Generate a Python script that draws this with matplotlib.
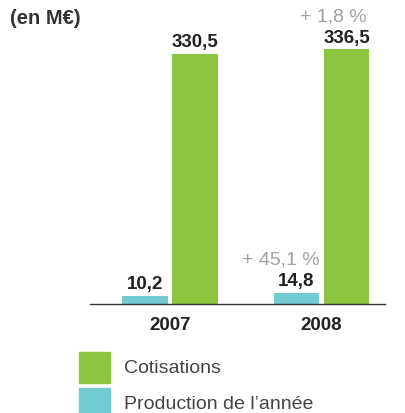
import matplotlib.pyplot as plt
from matplotlib.patches import Rectangle
import numpy as np

# --- Data ---
years = ["2007", "2008"]
cotisations = [330.5, 336.5]
production = [10.2, 14.8]
cotis_labels = ["330,5", "336,5"]
prod_labels = ["10,2", "14,8"]
cotis_change = [None, "+ 1,8 %"]
prod_change = [None, "+ 45,1 %"]
series_names = ["Cotisations", "Production de l\u2019ann\u00e9e"]

green = "#8cc63f"
cyan = "#72cbd2"
grey = "#a0a0a0"
dark = "#222222"

plt.rcParams["font.family"] = ["Liberation Sans", "DejaVu Sans"]

W, H = 406, 414
fig = plt.figure(figsize=(W / 100, H / 100), dpi=100)
ax = fig.add_axes([90 / W, 109 / H, 295 / W, 305 / H])

x = np.arange(len(years))
w = 0.30
off = 0.165
ax.bar(x - off, production, w, color=cyan)
ax.bar(x + off, cotisations, w, color=green)

ax.set_xlim(-0.528, 1.419)
ax.set_ylim(0, 403)

# --- value labels ---
for i in range(len(years)):
    ax.text(x[i] + off, cotisations[i] + 5, cotis_labels[i], ha="center", va="bottom",
            fontsize=13.5, fontweight="bold", color=dark)
    ax.text(x[i] - off, production[i] + 5, prod_labels[i], ha="center", va="bottom",
            fontsize=13.5, fontweight="bold", color=dark)
    if cotis_change[i]:
        ax.text(x[i] + off + w / 2 - 0.02, cotisations[i] + 33, cotis_change[i],
                ha="right", va="bottom", fontsize=14, color=grey)
    if prod_change[i]:
        ax.text(x[i] - off + w / 2, production[i] + 34, prod_change[i],
                ha="right", va="bottom", fontsize=14, color=grey)

# --- axes styling ---
for s in ["top", "right", "left"]:
    ax.spines[s].set_visible(False)
ax.spines["bottom"].set_color("#333333")
ax.spines["bottom"].set_linewidth(1.0)
ax.set_yticks([])
ax.set_xticks(x)
ax.set_xticklabels(years, fontsize=13.5, fontweight="bold", color=dark)
ax.tick_params(axis="x", length=0, pad=9)

fig.text(10 / W, 1 - 19 / H, "(en M\u20ac)", fontsize=14.5, fontweight="bold",
         color="#333333", va="center", ha="left")

# --- legend (drawn by hand, squares 31px) ---
leg_colors = [green, cyan]
for k, (name, c) in enumerate(zip(series_names, leg_colors)):
    top = 353 + k * 36
    fig.patches.append(Rectangle((79 / W, 1 - (top + 31) / H), 31 / W, 31 / H,
                                 transform=fig.transFigure, color=c))
    fig.text(124 / W, 1 - (top + 15.5) / H, name, fontsize=14, color="#444444",
             va="center", ha="left")

fig.savefig("out.png", dpi=100)
